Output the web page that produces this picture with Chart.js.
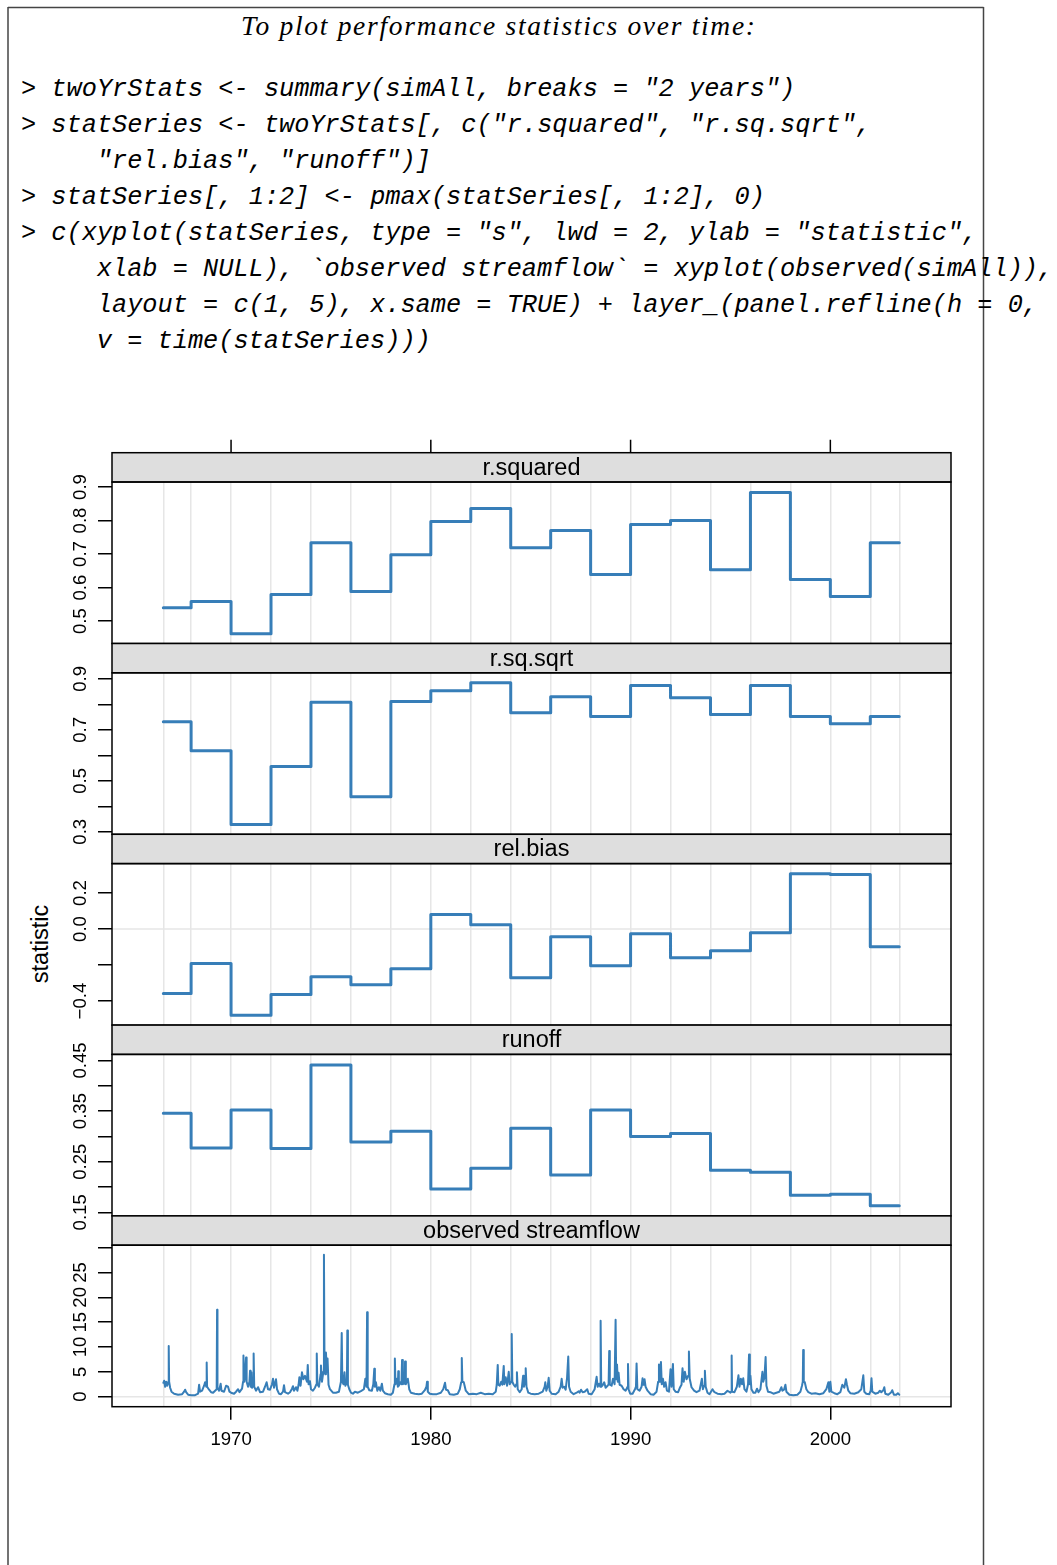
<!DOCTYPE html>
<html>
<head>
<meta charset="utf-8">
<script src="https://cdn.jsdelivr.net/npm/chart.js@4.4.1/dist/chart.umd.min.js"></script>
<style>
  html, body { margin: 0; padding: 0; background: #fff; }
  #page { position: relative; width: 1057px; height: 1565px; overflow: hidden; background: #fff; }
  #page canvas { position: absolute; left: 0; }
  #page svg { position: absolute; left: 0; top: 0; }
  .code { font-family: "Liberation Mono", "DejaVu Sans Mono", monospace; font-style: italic; font-size: 25.3px; fill: #000; }
</style>
</head>
<body>
<div id="page">
<svg width="1057" height="1565">
  <line x1="8" y1="7.5" x2="983.5" y2="7.5" stroke="#444" stroke-width="1.5"/>
  <line x1="8" y1="7" x2="8" y2="1565" stroke="#444" stroke-width="1.5"/>
  <line x1="983.5" y1="7" x2="983.5" y2="1565" stroke="#444" stroke-width="1.5"/>
  <text x="498" y="35" text-anchor="middle" font-family="Liberation Serif" font-style="italic" font-size="27.5" textLength="514" lengthAdjust="spacing">To plot performance statistics over time:</text>
  <text class="code" x="21" y="95.5">&gt; twoYrStats &lt;- summary(simAll, breaks = "2 years")</text>
  <text class="code" x="21" y="131.5">&gt; statSeries &lt;- twoYrStats[, c("r.squared", "r.sq.sqrt",</text>
  <text class="code" x="96.8" y="167.6">"rel.bias", "runoff")]</text>
  <text class="code" x="21" y="203.7">&gt; statSeries[, 1:2] &lt;- pmax(statSeries[, 1:2], 0)</text>
  <text class="code" x="21" y="239.7">&gt; c(xyplot(statSeries, type = "s", lwd = 2, ylab = "statistic",</text>
  <text class="code" x="96.8" y="275.8">xlab = NULL), `observed streamflow` = xyplot(observed(simAll)),</text>
  <text class="code" x="96.8" y="311.9">layout = c(1, 5), x.same = TRUE) + layer_(panel.refline(h = 0,</text>
  <text class="code" x="96.8" y="347.9">v = time(statSeries)))</text>
  <text transform="translate(48,944) rotate(-90)" text-anchor="middle" font-family="Liberation Sans" font-size="23.5" fill="#000">statistic</text>
</svg>
</div>
<script>
// two-year period start times (last one = end of record)
const breakTimes = [1966.61, 1968, 1970, 1972, 1974, 1976, 1978, 1980, 1982, 1984,
  1986, 1988, 1990, 1992, 1994, 1996, 1998, 2000, 2002, 2003.45];

// statistics per period (last value repeats to close the final step)
const rSquared = [0.540, 0.558, 0.462, 0.579, 0.734, 0.588, 0.698, 0.797, 0.836, 0.719,
  0.770, 0.639, 0.788, 0.800, 0.653, 0.884, 0.624, 0.573, 0.734, 0.734];
const rSqSqrt = [0.732, 0.618, 0.328, 0.556, 0.808, 0.437, 0.811, 0.854, 0.885, 0.767,
  0.830, 0.752, 0.874, 0.826, 0.760, 0.874, 0.752, 0.724, 0.752, 0.752];
const relBias = [-0.358, -0.191, -0.478, -0.363, -0.265, -0.309, -0.221, 0.080, 0.024, -0.270,
  -0.043, -0.204, -0.026, -0.160, -0.120, -0.020, 0.307, 0.302, -0.098, -0.098];
const runoff = [0.346, 0.277, 0.352, 0.276, 0.441, 0.289, 0.310, 0.196, 0.237, 0.316,
  0.224, 0.352, 0.300, 0.306, 0.233, 0.229, 0.184, 0.186, 0.163, 0.163];

// observed streamflow, [year, flow]
const flowPoints = [
  [1966.61, 2.8], [1966.65, 3.2], [1966.70, 2.0], [1966.75, 3.0], [1966.80, 2.2], [1966.86, 3.0],
  [1966.88, 10.2], [1966.90, 3.0], [1966.95, 1.8], [1967.02, 1.0], [1967.15, 0.6], [1967.35, 0.4],
  [1967.55, 0.5], [1967.65, 1.0], [1967.70, 1.4], [1967.75, 0.9], [1967.85, 0.4], [1968.00, 0.3],
  [1968.20, 0.3], [1968.35, 0.6], [1968.40, 2.4], [1968.45, 1.0], [1968.55, 1.2], [1968.65, 2.2],
  [1968.70, 2.9], [1968.76, 2.0], [1968.78, 6.9], [1968.80, 2.0], [1968.90, 1.4], [1969.00, 0.9],
  [1969.10, 0.8], [1969.20, 1.2], [1969.28, 1.5], [1969.30, 17.5], [1969.32, 1.8], [1969.40, 1.2],
  [1969.48, 2.6], [1969.52, 1.2], [1969.65, 1.0], [1969.75, 2.2], [1969.85, 2.0], [1969.92, 1.0],
  [1970.00, 0.8], [1970.15, 0.6], [1970.25, 1.0], [1970.35, 1.5], [1970.42, 0.9], [1970.55, 1.6],
  [1970.60, 3.0], [1970.62, 8.3], [1970.66, 3.0], [1970.70, 4.0], [1970.75, 7.9], [1970.78, 3.0],
  [1970.85, 2.0], [1970.92, 3.0], [1970.95, 5.2], [1970.98, 2.0], [1971.02, 4.9], [1971.05, 1.8],
  [1971.10, 2.2], [1971.13, 8.7], [1971.16, 2.0], [1971.25, 1.2], [1971.35, 1.9], [1971.45, 0.9],
  [1971.60, 1.0], [1971.70, 2.0], [1971.78, 2.9], [1971.85, 1.5], [1971.95, 1.4], [1972.05, 2.5],
  [1972.10, 3.6], [1972.15, 1.8], [1972.25, 3.5], [1972.30, 1.5], [1972.40, 0.6], [1972.50, 0.5],
  [1972.60, 1.0], [1972.65, 2.3], [1972.70, 0.9], [1972.85, 0.6], [1972.95, 0.9], [1973.05, 1.6],
  [1973.10, 2.1], [1973.15, 1.2], [1973.25, 1.9], [1973.32, 1.2], [1973.38, 2.4], [1973.42, 3.9],
  [1973.48, 2.2], [1973.55, 4.9], [1973.62, 3.5], [1973.70, 4.2], [1973.80, 3.0], [1973.84, 6.4],
  [1973.88, 2.5], [1973.95, 3.1], [1974.00, 1.5], [1974.10, 1.2], [1974.20, 1.8], [1974.27, 2.5],
  [1974.29, 8.7], [1974.32, 2.5], [1974.40, 2.0], [1974.48, 4.5], [1974.50, 6.3], [1974.55, 3.0],
  [1974.62, 5.0], [1974.65, 28.6], [1974.68, 5.0], [1974.72, 4.5], [1974.75, 8.9], [1974.80, 5.0],
  [1974.83, 7.7], [1974.88, 2.4], [1974.95, 1.5], [1975.10, 0.8], [1975.25, 0.8], [1975.40, 1.0],
  [1975.50, 3.0], [1975.54, 12.8], [1975.57, 3.0], [1975.63, 2.5], [1975.68, 4.9], [1975.72, 2.2],
  [1975.80, 2.8], [1975.82, 13.3], [1975.85, 2.4], [1975.92, 1.5], [1976.00, 0.8], [1976.10, 0.6],
  [1976.20, 1.0], [1976.35, 0.8], [1976.50, 1.1], [1976.65, 1.5], [1976.72, 3.6], [1976.78, 2.0],
  [1976.81, 17.0], [1976.84, 2.0], [1976.92, 1.3], [1977.05, 1.2], [1977.12, 2.5], [1977.17, 5.6],
  [1977.20, 2.0], [1977.25, 2.9], [1977.32, 1.2], [1977.40, 1.9], [1977.47, 1.2], [1977.55, 2.6],
  [1977.60, 1.2], [1977.70, 0.7], [1977.85, 0.5], [1978.00, 0.4], [1978.10, 0.8], [1978.18, 2.5],
  [1978.20, 7.7], [1978.23, 2.5], [1978.30, 3.6], [1978.35, 2.0], [1978.37, 5.1], [1978.40, 2.2],
  [1978.47, 2.9], [1978.53, 2.5], [1978.56, 7.4], [1978.60, 2.5], [1978.65, 2.9], [1978.69, 2.6],
  [1978.71, 7.1], [1978.75, 2.5], [1978.85, 3.6], [1978.92, 1.5], [1979.00, 0.8], [1979.20, 0.6],
  [1979.40, 0.5], [1979.55, 0.6], [1979.70, 1.3], [1979.78, 2.0], [1979.81, 3.0], [1979.85, 1.0],
  [1979.95, 0.6], [1980.10, 0.5], [1980.30, 0.5], [1980.50, 0.8], [1980.62, 1.5], [1980.71, 2.8],
  [1980.76, 1.4], [1980.85, 1.3], [1980.95, 0.5], [1981.15, 0.4], [1981.35, 0.6], [1981.45, 1.5],
  [1981.52, 2.9], [1981.55, 7.8], [1981.58, 3.0], [1981.65, 2.9], [1981.75, 1.2], [1981.90, 0.5],
  [1982.10, 0.6], [1982.30, 0.5], [1982.50, 0.8], [1982.70, 0.5], [1982.90, 0.6], [1983.10, 0.5],
  [1983.25, 1.0], [1983.30, 2.4], [1983.35, 6.4], [1983.38, 2.4], [1983.45, 2.2], [1983.52, 3.0],
  [1983.58, 2.4], [1983.65, 6.2], [1983.68, 2.5], [1983.75, 3.9], [1983.82, 2.2], [1983.90, 5.0],
  [1983.95, 2.5], [1984.02, 3.0], [1984.05, 12.6], [1984.08, 3.0], [1984.15, 2.4], [1984.22, 2.0],
  [1984.28, 2.5], [1984.31, 4.9], [1984.35, 1.5], [1984.45, 0.9], [1984.55, 1.5], [1984.62, 4.2],
  [1984.66, 2.0], [1984.72, 3.0], [1984.75, 5.7], [1984.79, 2.0], [1984.88, 0.8], [1985.00, 0.6],
  [1985.20, 0.5], [1985.40, 0.6], [1985.60, 1.0], [1985.70, 2.0], [1985.73, 2.9], [1985.78, 1.2],
  [1985.85, 2.0], [1985.90, 3.8], [1985.95, 1.2], [1986.05, 0.6], [1986.25, 0.5], [1986.40, 1.0],
  [1986.50, 2.0], [1986.55, 3.6], [1986.60, 1.8], [1986.68, 2.0], [1986.75, 1.4], [1986.82, 3.8],
  [1986.88, 8.1], [1986.92, 2.0], [1987.00, 1.0], [1987.15, 0.5], [1987.30, 0.8], [1987.40, 1.1],
  [1987.45, 0.8], [1987.52, 1.4], [1987.60, 0.9], [1987.70, 1.0], [1987.83, 1.5], [1987.90, 0.6],
  [1988.05, 0.5], [1988.20, 1.5], [1988.30, 4.0], [1988.35, 2.0], [1988.42, 2.6], [1988.48, 2.0],
  [1988.50, 15.3], [1988.53, 2.0], [1988.60, 2.3], [1988.68, 2.9], [1988.75, 1.8], [1988.85, 2.2],
  [1988.90, 2.5], [1988.93, 9.2], [1988.96, 2.4], [1989.05, 2.2], [1989.12, 3.6], [1989.20, 2.5],
  [1989.25, 15.5], [1989.28, 3.5], [1989.32, 6.5], [1989.36, 3.0], [1989.40, 4.8], [1989.45, 2.4],
  [1989.55, 2.2], [1989.65, 1.5], [1989.75, 1.2], [1989.85, 2.0], [1989.87, 6.6], [1989.90, 1.5],
  [1989.98, 0.6], [1990.10, 0.6], [1990.22, 1.5], [1990.27, 2.0], [1990.30, 6.7], [1990.34, 1.5],
  [1990.45, 1.2], [1990.55, 2.0], [1990.60, 3.7], [1990.64, 2.4], [1990.67, 3.2], [1990.70, 3.5],
  [1990.75, 2.0], [1990.85, 1.2], [1991.00, 0.5], [1991.15, 0.4], [1991.30, 1.0], [1991.38, 3.0],
  [1991.42, 6.5], [1991.47, 3.0], [1991.52, 7.0], [1991.56, 2.5], [1991.62, 3.6], [1991.68, 2.0],
  [1991.75, 2.9], [1991.82, 1.2], [1991.92, 1.0], [1992.00, 5.5], [1992.05, 2.0], [1992.12, 6.6],
  [1992.16, 1.5], [1992.25, 1.0], [1992.38, 0.9], [1992.48, 1.9], [1992.55, 2.4], [1992.60, 5.7],
  [1992.66, 3.0], [1992.72, 5.0], [1992.80, 3.5], [1992.88, 4.2], [1992.92, 9.1], [1992.96, 3.6],
  [1993.05, 1.9], [1993.18, 1.2], [1993.30, 0.9], [1993.45, 1.2], [1993.57, 3.6], [1993.62, 1.5],
  [1993.68, 2.2], [1993.72, 5.2], [1993.76, 2.0], [1993.85, 0.8], [1993.95, 0.5], [1994.10, 1.5],
  [1994.20, 0.9], [1994.35, 0.6], [1994.55, 0.5], [1994.70, 0.6], [1994.85, 1.2], [1995.00, 0.8],
  [1995.04, 1.0], [1995.06, 8.3], [1995.08, 1.0], [1995.20, 0.9], [1995.32, 2.0], [1995.40, 4.3],
  [1995.45, 2.0], [1995.52, 3.6], [1995.58, 2.5], [1995.64, 3.7], [1995.70, 1.5], [1995.80, 1.0],
  [1995.88, 2.5], [1995.93, 8.5], [1995.97, 2.5], [1996.00, 4.2], [1996.05, 1.5], [1996.15, 0.8],
  [1996.25, 0.8], [1996.33, 1.6], [1996.40, 0.9], [1996.50, 1.5], [1996.60, 5.0], [1996.64, 3.0],
  [1996.70, 3.8], [1996.76, 8.0], [1996.80, 2.2], [1996.88, 1.0], [1997.00, 0.9], [1997.15, 0.6],
  [1997.30, 0.8], [1997.45, 1.0], [1997.55, 1.9], [1997.60, 1.2], [1997.68, 1.4], [1997.75, 2.4],
  [1997.80, 1.0], [1997.95, 0.4], [1998.15, 0.3], [1998.35, 0.4], [1998.50, 1.0], [1998.58, 2.2],
  [1998.62, 3.0], [1998.64, 9.4], [1998.67, 3.0], [1998.72, 2.9], [1998.80, 1.5], [1998.90, 0.9],
  [1999.05, 0.6], [1999.25, 0.7], [1999.45, 0.5], [1999.65, 0.7], [1999.80, 1.5], [1999.90, 2.9],
  [1999.95, 1.0], [2000.00, 3.0], [2000.05, 1.0], [2000.20, 0.7], [2000.35, 0.5], [2000.50, 0.9],
  [2000.60, 2.4], [2000.70, 1.8], [2000.78, 3.5], [2000.83, 2.4], [2000.90, 1.2], [2001.00, 0.7],
  [2001.20, 0.6], [2001.40, 0.9], [2001.55, 1.5], [2001.65, 4.3], [2001.70, 1.0], [2001.80, 0.6],
  [2001.95, 0.5], [2002.02, 1.2], [2002.06, 3.7], [2002.10, 1.0], [2002.25, 0.6], [2002.40, 0.8],
  [2002.48, 1.2], [2002.55, 0.9], [2002.65, 1.3], [2002.70, 1.9], [2002.75, 0.6], [2002.90, 0.4],
  [2003.05, 0.9], [2003.10, 1.3], [2003.18, 0.4], [2003.30, 0.4], [2003.38, 0.7], [2003.45, 0.4]
];

// axes
const xLimits = [1964.04, 2006.04];
const yearTicks = [1970, 1980, 1990, 2000];
const yearLabels = ['1970', '1980', '1990', '2000'];
const rSquaredTicks = [0.5, 0.6, 0.7, 0.8, 0.9];
const rSquaredLabels = ['0.5', '0.6', '0.7', '0.8', '0.9'];
const rSqSqrtTicks = [0.3, 0.4, 0.5, 0.6, 0.7, 0.8, 0.9];
const rSqSqrtLabels = ['0.3', '', '0.5', '', '0.7', '', '0.9'];
const relBiasTicks = [-0.4, -0.2, 0.0, 0.2];
const relBiasLabels = ['\u22120.4', '', '0.0', '0.2'];
const runoffTicks = [0.15, 0.2, 0.25, 0.3, 0.35, 0.4, 0.45];
const runoffLabels = ['0.15', '', '0.25', '', '0.35', '', '0.45'];
const flowTicks = [0, 5, 10, 15, 20, 25, 30];
const flowLabels = ['0', '5', '10', '15', '20', '25', ''];
const yLimits = [[0.433, 0.915], [0.290, 0.924], [-0.533, 0.363], [0.143, 0.462], [-2.02, 30.5]];

const LINE_COL = '#377EB8';
const FONT = '"Liberation Sans", Arial, sans-serif';

// panel geometry on the page
const STRIP_TOP = 452.7, UNIT = 190.8, STRIP_H = 29.3;
const PANEL_LEFT = 112, PANEL_RIGHT = 951, PAGE_W = 1057;

// strip, frame, rotated y labels and the top axis ticks
const latticePanel = {
  id: 'latticePanel',
  beforeDatasetsDraw(chart) {
    // panel.refline(h = 0)
    const ys = chart.scales.y, a = chart.chartArea, ctx = chart.ctx;
    if (ys.min > 0 || ys.max < 0) return;
    const py = ys.getPixelForValue(0);
    ctx.save();
    ctx.strokeStyle = '#E6E6E6';
    ctx.lineWidth = 1.5;
    ctx.beginPath();
    ctx.moveTo(a.left, py);
    ctx.lineTo(a.right, py);
    ctx.stroke();
    ctx.restore();
  },
  afterDraw(chart, args, o) {
    const ctx = chart.ctx, a = chart.chartArea;
    const w = a.right - a.left;
    const sTop = a.top - STRIP_H;
    ctx.save();
    ctx.fillStyle = '#DEDEDE';
    ctx.fillRect(a.left, sTop, w, STRIP_H);
    ctx.strokeStyle = '#000';
    ctx.lineWidth = 1.5;
    ctx.strokeRect(a.left, sTop, w, STRIP_H);
    ctx.strokeRect(a.left, a.top, w, a.bottom - a.top);

    ctx.fillStyle = '#000';
    ctx.textAlign = 'center';
    ctx.textBaseline = 'middle';
    ctx.font = '23.5px ' + FONT;
    ctx.fillText(o.title, (a.left + a.right) / 2, sTop + STRIP_H / 2 + 1);

    const ys = chart.scales.y;
    ctx.font = '18.6px ' + FONT;
    o.ticks.forEach((v, k) => {
      if (!o.labels[k]) return;
      ctx.save();
      ctx.translate(80.8, ys.getPixelForValue(v));
      ctx.rotate(-Math.PI / 2);
      ctx.fillText(o.labels[k], 0, 0);
      ctx.restore();
    });

    if (o.topTicks) {
      const xs = chart.scales.x;
      ctx.beginPath();
      o.topTicks.forEach(v => {
        const px = xs.getPixelForValue(v);
        ctx.moveTo(px, sTop);
        ctx.lineTo(px, sTop - 13);
      });
      ctx.stroke();
    }
    ctx.restore();
  }
};

const panelSpecs = [
  { title: 'r.squared', values: rSquared, ticks: rSquaredTicks, labels: rSquaredLabels },
  { title: 'r.sq.sqrt', values: rSqSqrt, ticks: rSqSqrtTicks, labels: rSqSqrtLabels },
  { title: 'rel.bias', values: relBias, ticks: relBiasTicks, labels: relBiasLabels },
  { title: 'runoff', values: runoff, ticks: runoffTicks, labels: runoffLabels },
  { title: 'observed streamflow', flow: flowPoints, ticks: flowTicks, labels: flowLabels }
];

const page = document.getElementById('page');

panelSpecs.forEach((spec, i) => {
  const sTop = STRIP_TOP + UNIT * i;
  const panelBottom = sTop + UNIT;
  const last = i === panelSpecs.length - 1;
  const top = Math.floor(sTop) - 20;
  // extra room below so rotated labels near the bottom edge are not cut
  const height = last ? 1480 - top : Math.ceil(panelBottom) + 26 - top;

  const canvas = document.createElement('canvas');
  canvas.width = PAGE_W;
  canvas.height = height;
  canvas.style.top = top + 'px';
  canvas.style.width = PAGE_W + 'px';
  canvas.style.height = height + 'px';
  page.appendChild(canvas);

  const data = spec.flow
    ? spec.flow.map(p => ({ x: p[0], y: p[1] }))
    : breakTimes.map((t, k) => ({ x: t, y: spec.values[k] }));

  const scales = {
    x: {
      type: 'linear', position: 'bottom', min: xLimits[0], max: xLimits[1],
      afterBuildTicks: s => { s.ticks = breakTimes.map(v => ({ value: v })); },
      afterFit: s => { s.height = 0; },
      grid: { color: '#E6E6E6', lineWidth: 1.5, drawTicks: false },
      border: { display: false },
      ticks: { display: false }
    },
    y: {
      type: 'linear', position: 'left', min: yLimits[i][0], max: yLimits[i][1],
      afterBuildTicks: s => { s.ticks = spec.ticks.map(v => ({ value: v })); },
      afterFit: s => { s.width = PANEL_LEFT; },
      grid: { drawOnChartArea: false, drawTicks: true, tickLength: 14, color: '#000', lineWidth: 1.5 },
      border: { display: false },
      ticks: { display: false }
    }
  };
  if (last) {
    scales.xt = {
      type: 'linear', position: 'bottom', min: xLimits[0], max: xLimits[1],
      afterBuildTicks: s => { s.ticks = yearTicks.map(v => ({ value: v })); },
      afterFit: s => { s.height = height - (panelBottom - top); },
      grid: { drawOnChartArea: false, drawTicks: true, tickLength: 13, color: '#000', lineWidth: 1.5 },
      border: { display: false },
      ticks: {
        color: '#000', padding: 9, maxRotation: 0, autoSkip: false,
        font: { family: FONT, size: 18.6 },
        callback: (v, k) => yearLabels[k]
      }
    };
  }

  new Chart(canvas, {
    type: 'line',
    data: {
      datasets: [{
        data: data,
        xAxisID: 'x',
        yAxisID: 'y',
        borderColor: LINE_COL,
        borderWidth: spec.flow ? 2 : 3,
        stepped: spec.flow ? false : 'before',
        pointRadius: 0,
        tension: 0,
        borderJoinStyle: 'round',
        borderCapStyle: 'round',
        fill: false
      }]
    },
    options: {
      responsive: false,
      maintainAspectRatio: false,
      animation: false,
      devicePixelRatio: 1,
      events: [],
      layout: {
        padding: {
          left: 0,
          right: PAGE_W - PANEL_RIGHT,
          top: sTop + STRIP_H - top,
          bottom: last ? 0 : height - (panelBottom - top)
        }
      },
      scales: scales,
      plugins: {
        legend: { display: false },
        tooltip: { enabled: false },
        latticePanel: {
          title: spec.title,
          ticks: spec.ticks,
          labels: spec.labels,
          topTicks: i === 0 ? yearTicks : null
        }
      }
    },
    plugins: [latticePanel]
  });
});
</script>
</body>
</html>
